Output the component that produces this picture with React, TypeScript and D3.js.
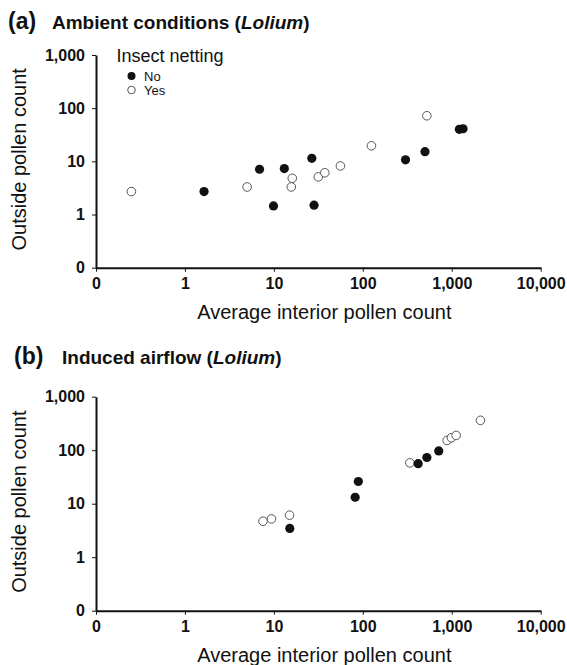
import React, { useEffect, useRef } from 'react'
import * as d3 from 'd3'

// values (0 is drawn one decade below 1)
const ambientNoX = [1.64, 6.9, 13.1, 26.7, 9.9, 28.3, 302, 500, 1217, 1340]
const ambientNoY = [2.7, 7.1, 7.3, 11.4, 1.45, 1.5, 10.7, 15.2, 40, 41]
const ambientYesX = [0.25, 5.0, 16.1, 15.7, 31.6, 37.4, 56, 125, 525]
const ambientYesY = [2.7, 3.3, 4.8, 3.3, 5.1, 6.1, 8.2, 19.6, 72]
const airflowNoX = [15.1, 82, 89, 419, 525, 714]
const airflowNoY = [3.45, 13.2, 26, 56, 73, 97]
const airflowYesX = [7.55, 9.4, 15, 338, 887, 991, 1120, 2100]
const airflowYesY = [4.7, 5.2, 6.1, 58, 152, 171, 189, 362]

const xTicks = [0, 1, 10, 100, 1000, 10000]
const yTicks = [0, 1, 10, 100, 1000]
const legendLabels = ['No', 'Yes']

const FONT = "'Liberation Sans', Arial, Helvetica, sans-serif"
const width = 567
const height = 665

type Pt = { x: number; y: number }
const zip = (xs: number[], ys: number[]): Pt[] => xs.map((x, i) => ({ x, y: ys[i] }))

const App = () => {
  const svgRef = useRef<SVGSVGElement>(null)

  useEffect(() => {
    const svg = d3.select(svgRef.current)
    svg.selectAll('*').remove()
    svg.attr('width', width).attr('height', height)

    const fmt = d3.format(',')
    const zeroAt = 0.1
    const v = (d: number) => (d <= 0 ? zeroAt : d)

    const left = 96
    const right = 540.7
    const xScale = d3.scaleLog().domain([zeroAt, 10000]).range([left, right])

    const drawPanel = (
      top: number,
      bottom: number,
      letter: string,
      titleStart: string,
      letterX: number,
      titleX: number,
      titleY: number,
      no: Pt[],
      yes: Pt[],
      legend: boolean
    ) => {
      const yScale = d3.scaleLog().domain([zeroAt, 1000]).range([bottom, top])
      const g = svg.append('g')

      // title
      g.append('text')
        .attr('x', letterX)
        .attr('y', titleY)
        .attr('font-family', FONT)
        .attr('font-weight', 'bold')
        .attr('font-size', 23)
        .attr('fill', '#111')
        .text(letter)
      const t = g
        .append('text')
        .attr('x', titleX)
        .attr('y', titleY)
        .attr('font-family', FONT)
        .attr('font-weight', 'bold')
        .attr('font-size', 19)
        .attr('fill', '#111')
      t.append('tspan').text(titleStart + ' (')
      t.append('tspan').attr('font-style', 'italic').text('Lolium')
      t.append('tspan').text(')')

      const xAxis = d3
        .axisBottom(xScale)
        .tickValues(xTicks.map(v))
        .tickFormat((d: any) => (d < 1 ? '0' : fmt(d)))
        .tickSize(4)
        .tickSizeOuter(0)
        .tickPadding(6)
      const yAxis = d3
        .axisLeft(yScale)
        .tickValues(yTicks.map(v))
        .tickFormat((d: any) => (d < 1 ? '0' : fmt(d)))
        .tickSize(4)
        .tickSizeOuter(0)
        .tickPadding(7)

      const gx = g.append('g').attr('transform', `translate(0,${bottom})`).call(xAxis)
      const gy = g.append('g').attr('transform', `translate(${left},0)`).call(yAxis)
      ;[gx, gy].forEach(a => {
        a.select('.domain').attr('stroke', '#111').attr('stroke-width', 2)
        a.selectAll('.tick line').attr('stroke', '#111').attr('stroke-width', 1)
        a.selectAll('.tick text')
          .attr('font-family', FONT)
          .attr('font-weight', 'bold')
          .attr('font-size', 16)
          .attr('fill', '#111')
      })

      // axis titles
      g.append('text')
        .attr('x', (left + right) / 2 + 6)
        .attr('y', bottom + 51.5)
        .attr('text-anchor', 'middle')
        .attr('font-family', FONT)
        .attr('font-size', 20)
        .attr('fill', '#111')
        .text('Average interior pollen count')
      g.append('text')
        .attr('transform', `translate(26,${(top + bottom) / 2 - 2}) rotate(-90)`)
        .attr('text-anchor', 'middle')
        .attr('font-family', FONT)
        .attr('font-size', 20)
        .attr('fill', '#111')
        .text('Outside pollen count')

      g.append('g')
        .selectAll('circle')
        .data(yes)
        .enter()
        .append('circle')
        .attr('cx', d => xScale(v(d.x)))
        .attr('cy', d => yScale(v(d.y)))
        .attr('r', 4.3)
        .attr('fill', '#fff')
        .attr('stroke', '#555')
        .attr('stroke-width', 1)

      g.append('g')
        .selectAll('circle')
        .data(no)
        .enter()
        .append('circle')
        .attr('cx', d => xScale(v(d.x)))
        .attr('cy', d => yScale(v(d.y)))
        .attr('r', 4.6)
        .attr('fill', '#111')

      if (legend) {
        const lg = g.append('g')
        lg.append('text')
          .attr('x', 116.5)
          .attr('y', 61.5)
          .attr('font-family', FONT)
          .attr('font-size', 18)
          .attr('fill', '#111')
          .text('Insect netting')
        legendLabels.forEach((lab, i) => {
          const cy = 76 + i * 14
          lg.append('circle')
            .attr('cx', 131.5)
            .attr('cy', cy)
            .attr('r', i === 0 ? 4 : 3.8)
            .attr('fill', i === 0 ? '#111' : '#fff')
            .attr('stroke', i === 0 ? 'none' : '#555')
            .attr('stroke-width', 1)
          lg.append('text')
            .attr('x', 144)
            .attr('y', cy + 5)
            .attr('font-family', FONT)
            .attr('font-size', 13)
            .attr('fill', '#111')
            .text(lab)
        })
      }
    }

    drawPanel(55, 267.7, '(a)', 'Ambient conditions', 8, 52, 29,
      zip(ambientNoX, ambientNoY), zip(ambientYesX, ambientYesY), true)
    drawPanel(396.7, 610.7, '(b)', 'Induced airflow', 14, 62, 364,
      zip(airflowNoX, airflowNoY), zip(airflowYesX, airflowYesY), false)
  }, [])

  return (
    <div style={{ position: 'absolute', left: 0, top: 0, background: '#fff' }}>
      <svg ref={svgRef} style={{ display: 'block' }} />
    </div>
  )
}

export default App
